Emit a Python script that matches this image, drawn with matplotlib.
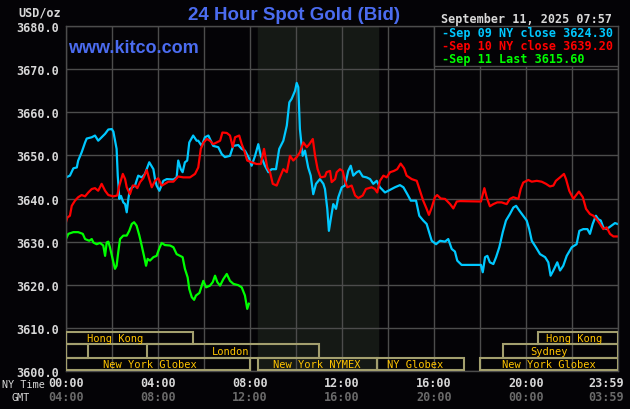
import matplotlib.pyplot as plt
from matplotlib.patches import Rectangle

# Sep 09 NY close (blue) - hours since 00:00 NY time, price
sep09_t = [0.0, 0.17, 0.32, 0.47, 0.53, 0.68, 0.83, 0.90, 1.12, 1.26, 1.40, 1.55, 1.70, 1.84, 1.99,
           2.06, 2.20, 2.25, 2.32, 2.39, 2.49, 2.57, 2.64, 2.71, 2.78, 3.00, 3.14, 3.29, 3.43, 3.62,
           3.80, 3.87, 3.94, 4.06, 4.23, 4.38, 4.67, 4.81, 4.88, 4.99, 5.07, 5.17, 5.27, 5.36, 5.53,
           5.68, 5.75, 5.90, 6.04, 6.19, 6.40, 6.62, 6.77, 6.91, 7.13, 7.27, 7.49, 7.64, 7.78, 7.97,
           8.07, 8.22, 8.36, 8.47, 8.65, 8.80, 8.94, 9.13, 9.27, 9.45, 9.60, 9.71, 9.81, 9.96, 10.03,
           10.10, 10.17, 10.29, 10.39, 10.53, 10.64, 10.75, 10.87, 11.04, 11.19, 11.26, 11.36, 11.43,
           11.51, 11.62, 11.74, 11.84, 11.99, 12.13, 12.27, 12.38, 12.49, 12.64, 12.75, 12.90, 13.07,
           13.22, 13.36, 13.51, 13.65, 13.87, 14.09, 14.30, 14.52, 14.67, 14.84, 14.99, 15.22, 15.36,
           15.53, 15.68, 15.90, 16.09, 16.26, 16.48, 16.62, 16.77, 16.91, 17.01, 17.20, 17.57, 18.04,
           18.12, 18.22, 18.32, 18.43, 18.58, 18.70, 18.84, 18.99, 19.13, 19.30, 19.45, 19.57, 19.71,
           19.88, 20.03, 20.14, 20.25, 20.43, 20.61, 20.83, 20.97, 21.07, 21.19, 21.36, 21.48, 21.62,
           21.77, 21.99, 22.20, 22.32, 22.49, 22.67, 22.78, 22.90, 23.04, 23.14, 23.25, 23.36, 23.51,
           23.72, 23.87, 23.98]
sep09_p = [3644.9, 3645.3, 3647.0, 3647.2, 3648.8, 3650.7, 3653.0, 3653.9, 3654.2, 3654.6, 3653.4,
           3654.2, 3655.0, 3656.0, 3656.1, 3655.5, 3651.5, 3645.3, 3639.9, 3640.6, 3639.1, 3638.7,
           3636.8, 3639.9, 3642.2, 3643.0, 3645.3, 3644.9, 3645.7, 3648.4, 3646.8, 3644.5, 3643.0,
           3641.8, 3644.1, 3644.5, 3644.4, 3644.9, 3648.8, 3646.8, 3646.1, 3648.4, 3648.8, 3653.0,
           3654.6, 3653.4, 3653.4, 3652.2, 3654.2, 3654.6, 3652.2, 3651.9, 3650.3, 3649.6, 3649.9,
           3652.2, 3652.4, 3651.5, 3651.1, 3649.2, 3647.6, 3649.9, 3652.6, 3649.9, 3647.6, 3646.1,
           3646.8, 3646.8, 3651.5, 3653.4, 3656.9, 3662.3, 3663.1, 3665.0, 3666.8, 3665.8, 3656.1,
           3649.9, 3651.1, 3647.2, 3645.3, 3641.0, 3643.4, 3644.5, 3643.4, 3642.2, 3637.6, 3632.5,
           3635.2, 3638.7, 3637.6, 3640.3, 3642.6, 3643.0, 3646.4, 3647.6, 3645.3, 3646.1, 3646.4,
           3645.1, 3644.9, 3644.5, 3643.4, 3644.1, 3642.6, 3641.4, 3642.0, 3642.6, 3643.1, 3642.6,
           3641.0, 3639.5, 3639.5, 3636.0, 3634.9, 3634.1, 3630.2, 3629.4, 3630.2, 3630.0, 3630.6,
           3628.3, 3627.7, 3625.6, 3624.6, 3624.6, 3624.6, 3622.9, 3626.4, 3626.7, 3625.2, 3624.8,
           3626.4, 3628.7, 3632.2, 3634.9, 3636.4, 3637.9, 3638.3, 3637.2, 3636.0, 3634.9, 3632.9,
           3630.2, 3628.7, 3627.1, 3626.4, 3625.2, 3622.1, 3623.3, 3625.2, 3623.3, 3624.4, 3626.7,
           3628.7, 3629.4, 3632.5, 3632.9, 3632.9, 3631.8, 3634.1, 3636.0, 3635.2, 3634.9, 3633.3,
           3632.9, 3633.7, 3634.3, 3634.1]

# Sep 10 NY close (red)
sep10_t = [0.0, 0.06, 0.17, 0.25, 0.39, 0.53, 0.68, 0.83, 0.97, 1.12, 1.26, 1.40, 1.55, 1.70, 1.84,
           2.06, 2.23, 2.32, 2.47, 2.57, 2.64, 2.78, 2.90, 3.00, 3.10, 3.22, 3.36, 3.51, 3.62, 3.73,
           3.87, 4.01, 4.16, 4.30, 4.45, 4.67, 4.88, 5.10, 5.39, 5.61, 5.75, 5.86, 5.97, 6.12, 6.26,
           6.40, 6.55, 6.70, 6.80, 6.99, 7.13, 7.25, 7.35, 7.53, 7.64, 7.75, 7.88, 8.07, 8.29, 8.47,
           8.61, 8.75, 8.87, 8.99, 9.16, 9.30, 9.45, 9.60, 9.74, 9.88, 10.03, 10.17, 10.32, 10.47,
           10.58, 10.73, 10.83, 10.94, 11.07, 11.26, 11.33, 11.48, 11.55, 11.70, 11.77, 11.91, 12.03,
           12.13, 12.23, 12.42, 12.57, 12.71, 12.90, 13.04, 13.29, 13.43, 13.53, 13.65, 13.80, 13.94,
           14.09, 14.26, 14.40, 14.55, 14.70, 14.81, 15.03, 15.25, 15.39, 15.53, 15.68, 15.78, 15.90,
           16.04, 16.14, 16.29, 16.48, 16.70, 16.84, 16.99, 17.13, 18.04, 18.12, 18.19, 18.29, 18.43,
           18.58, 18.75, 18.94, 19.16, 19.30, 19.45, 19.67, 19.77, 19.88, 20.10, 20.25, 20.47, 20.68,
           20.87, 21.04, 21.19, 21.30, 21.48, 21.65, 21.74, 21.88, 22.06, 22.17, 22.30, 22.47, 22.61,
           22.78, 22.93, 23.07, 23.22, 23.36, 23.51, 23.65, 23.80, 23.98]
sep10_p = [3634.5, 3635.6, 3636.0, 3638.3, 3639.5, 3640.3, 3640.8, 3640.5, 3641.4, 3642.2, 3642.4,
           3641.8, 3643.4, 3641.8, 3640.8, 3640.5, 3640.7, 3643.0, 3645.7, 3644.5, 3642.6, 3641.0,
           3643.0, 3643.0, 3642.4, 3643.8, 3644.7, 3646.6, 3644.5, 3642.6, 3644.1, 3644.7, 3643.0,
           3643.4, 3643.9, 3643.9, 3645.1, 3644.9, 3644.9, 3645.7, 3647.2, 3651.5, 3652.9, 3653.8,
           3653.4, 3652.6, 3653.0, 3653.4, 3655.3, 3655.2, 3654.6, 3651.9, 3654.2, 3654.6, 3652.6,
           3651.1, 3648.8, 3648.4, 3648.0, 3648.0, 3651.5, 3647.2, 3646.1, 3643.4, 3643.0, 3644.9,
           3646.8, 3646.1, 3649.9, 3648.8, 3649.6, 3650.7, 3653.0, 3651.9, 3652.6, 3653.8, 3649.9,
           3646.8, 3644.9, 3645.1, 3646.1, 3646.4, 3643.8, 3644.5, 3646.1, 3646.8, 3646.4, 3644.1,
           3642.6, 3643.0, 3640.7, 3640.1, 3640.7, 3642.2, 3642.6, 3642.2, 3641.4, 3644.1, 3645.3,
           3644.9, 3646.1, 3646.4, 3646.8, 3648.1, 3647.0, 3645.3, 3644.5, 3644.1, 3641.8, 3639.5,
           3637.6, 3636.2, 3637.9, 3640.3, 3640.8, 3640.0, 3639.9, 3638.7, 3637.7, 3639.3, 3639.4,
           3639.3, 3641.0, 3642.4, 3640.3, 3638.2, 3638.7, 3639.1, 3639.1, 3638.7, 3639.9, 3640.3,
           3639.9, 3642.2, 3643.7, 3644.3, 3643.9, 3644.1, 3643.9, 3643.4, 3642.8, 3643.0, 3644.1,
           3644.9, 3645.7, 3644.5, 3641.8, 3639.9, 3640.7, 3641.6, 3640.3, 3637.6, 3636.4, 3636.0,
           3635.2, 3634.1, 3632.9, 3633.3, 3631.8, 3631.2, 3631.2]

# Sep 11 last (green), up to 07:57
sep11_t = [0.0, 0.10, 0.32, 0.53, 0.73, 0.83, 1.01, 1.12, 1.19, 1.33, 1.48, 1.62, 1.70, 1.77, 1.84,
           1.91, 2.06, 2.13, 2.20, 2.27, 2.35, 2.49, 2.64, 2.75, 2.86, 2.96, 3.07, 3.19, 3.29, 3.39,
           3.48, 3.55, 3.65, 3.80, 3.94, 4.06, 4.16, 4.30, 4.52, 4.67, 4.81, 4.96, 5.07, 5.17, 5.29,
           5.36, 5.47, 5.57, 5.65, 5.80, 5.97, 6.09, 6.26, 6.38, 6.48, 6.58, 6.70, 6.84, 6.99, 7.13,
           7.28, 7.49, 7.64, 7.78, 7.88, 7.95]
sep11_p = [3630.6, 3631.8, 3632.2, 3632.2, 3631.8, 3630.6, 3630.2, 3630.6, 3629.8, 3629.4, 3629.7,
           3629.1, 3626.7, 3629.8, 3630.0, 3628.7, 3625.2, 3623.7, 3624.4, 3627.5, 3630.6, 3631.4,
           3631.4, 3632.5, 3634.1, 3634.5, 3633.7, 3631.4, 3629.1, 3626.7, 3624.4, 3626.0, 3625.6,
           3626.4, 3626.7, 3628.5, 3629.7, 3629.2, 3629.1, 3628.7, 3627.1, 3626.7, 3626.4, 3623.7,
           3621.7, 3619.0, 3617.1, 3616.5, 3617.5, 3618.1, 3620.9, 3619.4, 3619.8, 3620.6, 3622.1,
           3620.6, 3619.8, 3621.3, 3622.5, 3620.9, 3620.2, 3619.9, 3619.4, 3617.5, 3614.4, 3615.6]

legend_labels = ["-Sep 09 NY close 3624.30", "-Sep 10 NY close 3639.20", "-Sep 11 Last 3615.60"]
colors = ["#00c8ff", "#ff0000", "#00ff00"]

y_ticks = [3600, 3610, 3620, 3630, 3640, 3650, 3660, 3670, 3680]
ny_labels = ["00:00", "04:00", "08:00", "12:00", "16:00", "20:00", "23:59"]
gmt_labels = ["04:00", "08:00", "12:00", "16:00", "20:00", "00:00", "03:59"]
label_hours = [0, 4, 8, 12, 16, 20, 23.5]

# trading sessions: name, start hour, end hour, row, label hour
sessions = [
    ("Hong Kong", 0, 5.5, 1, 2.13),
    ("Sydney", 0, 0.97, 2, None),
    ("London", 3.5, 11.0, 2, 7.17),
    ("New York Globex", 0, 8.0, 3, 3.65),
    ("New York NYMEX", 8.33, 13.5, 3, 10.9),
    ("NY Globex", 13.5, 17.3, 3, 15.2),
    ("New York Globex", 18.0, 24, 3, 21.0),
    ("Sydney", 19.0, 24, 2, 21.0),
    ("Hong Kong", 20.5, 24, 1, 22.1),
]
rows = {1: (3606.3, 3609.0), 2: (3603.1, 3606.3), 3: (3600.2, 3603.1)}

bg = "#040306"
grid_c = "#4c4c4c"
plt.rcParams['font.family'] = 'DejaVu Sans Mono'

fig = plt.figure(figsize=(6.3, 4.1), dpi=100, facecolor=bg)
ax = fig.add_axes([66/630, 38/410, 552/630, 345/410], facecolor=bg)
ax.set_xlim(0, 24)
ax.set_ylim(3600, 3680)

# NYMEX shading
ax.axvspan(8.33, 13.55, color="#151915", zorder=0)

ax.set_xticks(range(0, 25, 2))
ax.set_xticklabels([])
ax.set_yticks(y_ticks)
ax.set_yticklabels([f"{v:.1f}" for v in y_ticks], fontsize=8.5, fontweight='bold', color="#d8d8d8")
ax.tick_params(length=0, pad=5)
ax.grid(True, color=grid_c, lw=1.0, zorder=0.5)
ax.set_axisbelow(True)
for s in ax.spines.values():
    s.set_color(grid_c)
    s.set_linewidth(1.0)

for t, p, c in [(sep09_t, sep09_p, colors[0]), (sep10_t, sep10_p, colors[1]), (sep11_t, sep11_p, colors[2])]:
    ax.plot(t, p, color=c, lw=1.6, zorder=2)

# session boxes
for name, start, end, row, lx in sessions:
    lo, hi = rows[row]
    ax.add_patch(Rectangle((start, lo), end - start, hi - lo, fill=False,
                           edgecolor="#a39f6e", lw=1.5, zorder=3))
    if lx is not None:
        ax.text(lx, (lo + hi) / 2, name, color="#ffc400", fontsize=7.5,
                ha='center', va='center', zorder=4)

# legend box
ax.add_patch(Rectangle((16, 3670.8), 8, 9.2, facecolor=bg, edgecolor=grid_c, lw=1.0, zorder=3))
for i, (lab, c) in enumerate(zip(legend_labels, colors)):
    fig.text(442/630, 1 - (34 + 12.5*i)/410, lab, color=c, fontsize=8.5, fontweight='bold',
             ha='left', va='center')

# x labels
for h, ny, gmt in zip(label_hours, ny_labels, gmt_labels):
    ax.text(h, -12/345, ny, transform=ax.get_xaxis_transform(), ha='center', va='center',
            fontsize=8.5, fontweight='bold', color="#d8d8d8")
    ax.text(h, -26/345, gmt, transform=ax.get_xaxis_transform(), ha='center', va='center',
            fontsize=8.5, fontweight='bold', color="#6a6a6a")
fig.text(2/630, 1 - 385/410, "NY Time", color="#d8d8d8", fontsize=7.3, ha='left', va='center')
fig.text(11/630, 1 - 398/410, "GMT", color="#d8d8d8", fontsize=7.3, ha='left', va='center')

fig.text(61/630, 1 - 13.5/410, "USD/oz", color="#d8d8d8", fontsize=8.5, fontweight='bold',
         ha='right', va='center')
fig.text(441/630, 1 - 20/410, "September 11, 2025 07:57", color="#d8d8d8", fontsize=8.5,
         fontweight='bold', ha='left', va='center')
fig.text(294.5/630, 1 - 15.5/410, "24 Hour Spot Gold (Bid)", color="#4b6cf0", fontsize=13.5,
         fontweight='bold', family='Liberation Sans', ha='center', va='center')
fig.text(68/630, 1 - 48.5/410, "www.kitco.com", color="#4b6cf0", fontsize=13,
         fontweight='bold', family='Liberation Sans', ha='left', va='center', zorder=5)

fig.savefig("out.png", dpi=100, facecolor=bg)
